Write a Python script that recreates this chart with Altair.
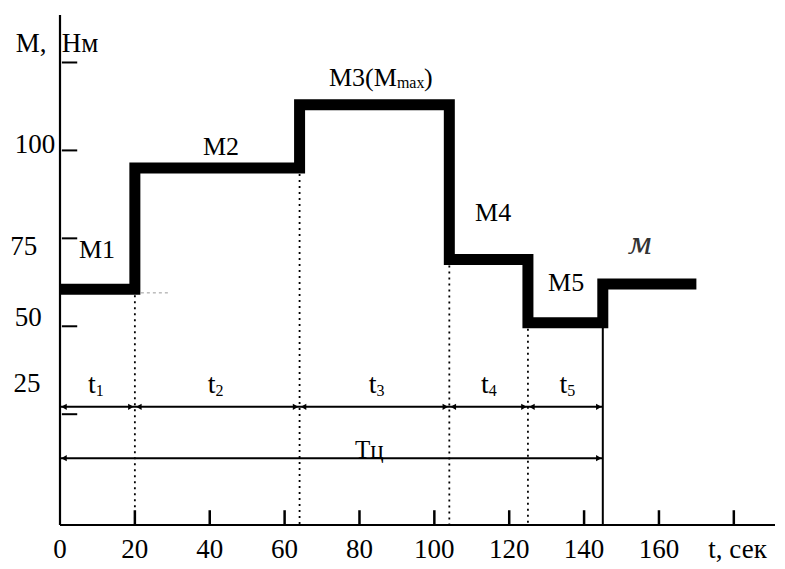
import altair as alt
import pandas as pd

# ---- data ----
step_t = [0, 20, 64, 104, 125, 145, 170]
step_m = [60.5, 95, 113, 69, 51, 62, 62]

x_ticks = [20, 40, 60, 80, 100, 120, 140, 160, 180]
x_tick_labels = ["0", "20", "40", "60", "80", "100", "120", "140", "160", "t, сек"]
x_tick_label_pos = [0, 20, 40, 60, 80, 100, 120, 140, 160, 181]

y_ticks = [25, 50, 75, 100, 125]
y_tick_labels = ["100", "75", "50", "25"]
y_label_t = [-6.7, -9.7, -8.5, -8.8]
y_label_v = [101.4, 72.5, 52.3, 33.6]

boundaries = [20, 64, 104, 125]
boundary_levels = [60.5, 95, 69, 51]
cycle_end = 145
cycle_end_level = 51

dim_row1 = 27.1
dim_row2 = 12.5
seg_starts = [0, 20, 64, 104, 125]
seg_ends = [20, 64, 104, 125, 145]
seg_label_t = [9, 41, 84, 114, 135]
seg_label_v = 33.3
seg_subs = ["1", "2", "3", "4", "5"]

m_labels = ["M1", "M2", "M4", "M5"]
m_label_t = [9.9, 43, 115.7, 135.2]
m_label_v = [71.7, 101, 82.2, 62.3]

X_MIN, X_MAX = 0, 191
Y_MIN, Y_MAX = -6.5, 138.5

xs = alt.Scale(domain=[X_MIN, X_MAX], nice=False, zero=False)
ys = alt.Scale(domain=[Y_MIN, Y_MAX], nice=False, zero=False)
FONT = "Liberation Serif"


def X(f="t"):
    return alt.X(f"{f}:Q", scale=xs, axis=None)


def Y(f="v"):
    return alt.Y(f"{f}:Q", scale=ys, axis=None)


# axes lines
axes_df = pd.DataFrame({
    "t": [0, 0], "t2": [0, X_MAX], "v": [Y_MIN, Y_MIN], "v2": [Y_MAX, Y_MIN]
})
axes = alt.Chart(axes_df).mark_rule(color="black", strokeWidth=2.2).encode(
    x=X(), x2="t2:Q", y=Y(), y2="v2:Q")

# x ticks (inside, upward)
xt_df = pd.DataFrame({"t": x_ticks, "v": [Y_MIN] * len(x_ticks), "v2": [Y_MIN + 4.2] * len(x_ticks)})
xticks = alt.Chart(xt_df).mark_rule(color="black", strokeWidth=2.5).encode(
    x=X(), y=Y(), y2="v2:Q")

# y ticks (inside, rightward)
yt_df = pd.DataFrame({"v": y_ticks, "t": [0.5] * len(y_ticks), "t2": [4.6] * len(y_ticks)})
yticks = alt.Chart(yt_df).mark_rule(color="black", strokeWidth=2).encode(
    x=X(), x2="t2:Q", y=Y())

# x tick labels
xl_df = pd.DataFrame({"t": x_tick_label_pos, "lab": x_tick_labels, "v": [-13.6] * len(x_tick_labels)})
xlabels = alt.Chart(xl_df).mark_text(font=FONT, fontSize=27, color="black",
                                     baseline="middle", align="center").encode(
    x=X(), y=Y(), text="lab:N")

# y tick labels
yl_df = pd.DataFrame({"t": y_label_t, "v": y_label_v, "lab": y_tick_labels})
ylabels = alt.Chart(yl_df).mark_text(font=FONT, fontSize=27, color="black",
                                     baseline="middle", align="center").encode(
    x=X(), y=Y(), text="lab:N")

# axis title
at_df = pd.DataFrame({"t": [-11.8, 0.5], "v": [130.3, 130.3], "lab": ["M,", "Нм"]})
ytitle = alt.Chart(at_df).mark_text(font=FONT, fontSize=27, color="black",
                                    baseline="middle", align="left").encode(
    x=X(), y=Y(), text="lab:N")

# dotted vertical guides
dv_df = pd.DataFrame({"t": boundaries, "v": boundary_levels, "v2": [Y_MIN] * len(boundaries)})
dotted = alt.Chart(dv_df).mark_rule(color="black", strokeWidth=1.8, strokeDash=[2, 4]).encode(
    x=X(), y=Y(), y2="v2:Q")

# solid end-of-cycle line
ce_df = pd.DataFrame({"t": [cycle_end], "v": [cycle_end_level], "v2": [Y_MIN]})
cend = alt.Chart(ce_df).mark_rule(color="black", strokeWidth=2).encode(
    x=X(), y=Y(), y2="v2:Q")

# faint dashed stub after M1
stub_df = pd.DataFrame({"t": [20], "t2": [29], "v": [59.5]})
stub = alt.Chart(stub_df).mark_rule(color="#9a9a9a", strokeWidth=1, strokeDash=[3, 3]).encode(
    x=X(), x2="t2:Q", y=Y())

# dimension lines
dim_df = pd.DataFrame({"t": [0, 0], "t2": [cycle_end, cycle_end], "v": [dim_row1, dim_row2]})
dims = alt.Chart(dim_df).mark_rule(color="black", strokeWidth=2).encode(
    x=X(), x2="t2:Q", y=Y())

# arrowheads
ar_right = pd.DataFrame({"t": seg_ends + [cycle_end], "v": [dim_row1] * 5 + [dim_row2]})
ar_left = pd.DataFrame({"t": seg_starts + [0], "v": [dim_row1] * 5 + [dim_row2]})
arrows_r = alt.Chart(ar_right).mark_point(shape="triangle-right", filled=True, color="black",
                                          size=40, opacity=1, xOffset=-4).encode(x=X(), y=Y())
arrows_l = alt.Chart(ar_left).mark_point(shape="triangle-left", filled=True, color="black",
                                         size=40, opacity=1, xOffset=4).encode(x=X(), y=Y())

# step load line
step_df = pd.DataFrame({"t": step_t, "v": step_m})
step = alt.Chart(step_df).mark_line(color="black", strokeWidth=11, interpolate="step-after",
                                    strokeJoin="miter", strokeCap="butt").encode(x=X(), y=Y())

# segment labels t_i
sl_df = pd.DataFrame({"t": seg_label_t, "v": [seg_label_v] * 5, "sub": seg_subs,
                      "main": ["t"] * 5})
seg_main = alt.Chart(sl_df).mark_text(font=FONT, fontSize=28, color="black", align="right",
                                      baseline="middle", dx=2).encode(x=X(), y=Y(), text="main:N")
seg_sub = alt.Chart(sl_df).mark_text(font=FONT, fontSize=16, color="black", align="left",
                                     baseline="middle", dx=2, dy=6).encode(x=X(), y=Y(), text="sub:N")

# cycle label
tc_df = pd.DataFrame({"t": [82.6], "v": [14.8], "lab": ["Tц"]})
tc = alt.Chart(tc_df).mark_text(font=FONT, fontSize=25, color="black", align="center",
                                baseline="middle").encode(x=X(), y=Y(), text="lab:N")

# M labels
ml_df = pd.DataFrame({"t": m_label_t, "v": m_label_v, "lab": m_labels})
mlabels = alt.Chart(ml_df).mark_text(font=FONT, fontSize=26, color="black", align="center",
                                     baseline="middle").encode(x=X(), y=Y(), text="lab:N")

m3_df = pd.DataFrame({"t": [90.0], "v": [120.6], "a": ["M3(M"], "b": ["max"], "c": [")"]})
m3a = alt.Chart(m3_df).mark_text(font=FONT, fontSize=26, color="black", align="right",
                                 baseline="middle").encode(x=X(), y=Y(), text="a:N")
m3b = alt.Chart(m3_df).mark_text(font=FONT, fontSize=16, color="black", align="left",
                                 baseline="middle", dy=5).encode(x=X(), y=Y(), text="b:N")
m3c = alt.Chart(m3_df).mark_text(font=FONT, fontSize=26, color="black", align="left",
                                 baseline="middle", dx=27).encode(x=X(), y=Y(), text="c:N")

# handwritten mark
hw_df = pd.DataFrame({"t": [155], "v": [73], "lab": ["м"]})
hw = alt.Chart(hw_df).mark_text(font="DejaVu Serif", fontSize=30, fontStyle="italic",
                                fontWeight="normal", color="#333333", align="center",
                                baseline="middle").encode(x=X(), y=Y(), text="lab:N")

chart = alt.layer(
    stub, dotted, cend, dims, arrows_r, arrows_l, axes, xticks, yticks,
    step, xlabels, ylabels, ytitle, seg_main, seg_sub, tc, mlabels, m3a, m3b, m3c, hw
).properties(
    width=715, height=510,
    padding={"left": 52, "top": 7, "right": 2, "bottom": 44},
    autosize=alt.AutoSizeParams(type="none"),
    background="white",
).configure_view(stroke=None)

chart.save("out.html", embed_options={"renderer": "svg", "actions": False})
